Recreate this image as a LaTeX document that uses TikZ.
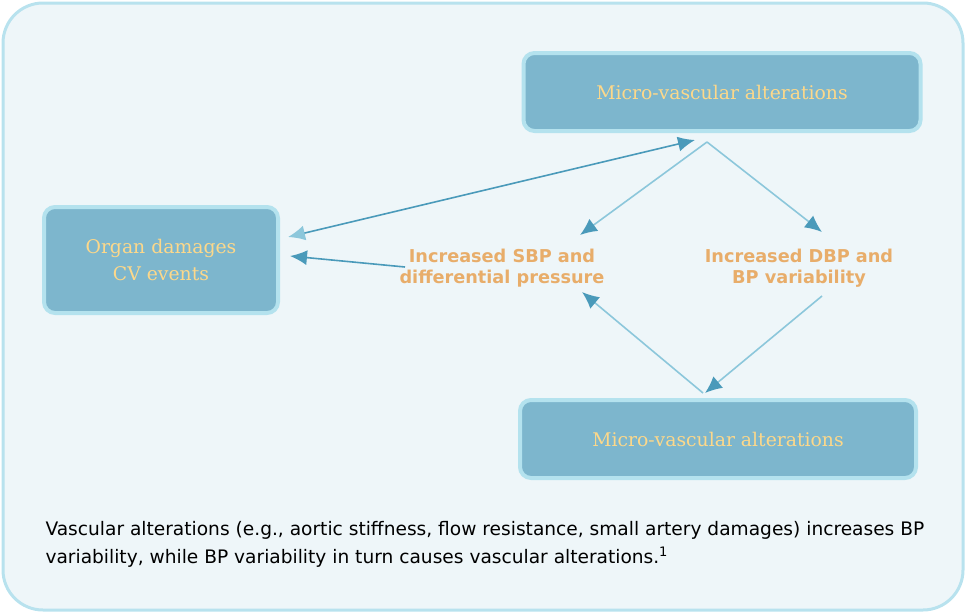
\documentclass[tikz,border=0pt]{standalone}
\usepackage{fontspec}
\setmainfont{DejaVu Sans}
\newfontfamily\boxfont{DejaVu Serif}
\usetikzlibrary{arrows.meta, positioning, calc}

\definecolor{framefill}{HTML}{EEF6F9}
\definecolor{frameline}{HTML}{B8E2EE}
\definecolor{boxfill}{HTML}{7DB6CD}
\definecolor{boxline}{HTML}{B4E2EE}
\definecolor{boxtext}{HTML}{FDD88A}
\definecolor{labeltext}{HTML}{E8AD6A}
\definecolor{arrowdark}{HTML}{4A9ABA}
\definecolor{arrowlite}{HTML}{8CC7DB}

\begin{document}
\begin{tikzpicture}[x=1pt, y=-1pt,
    altbox/.style={draw=boxline, line width=4pt, fill=boxfill, rounded corners=11pt,
        text=boxtext, align=center, font=\boxfont\fontsize{18.8}{27}\selectfont},
    effect/.style={text=labeltext, align=center, font=\bfseries\fontsize{17.7}{21.5}\selectfont},
    link/.style={arrowdark, line width=1.6pt, -{Latex[length=17pt, width=15pt]}},
    litelink/.style={arrowlite, line width=1.6pt, -{Latex[length=17pt, width=15pt, color=arrowdark]}}]

% Frame
\useasboundingbox (0,0) rectangle (966,613);
\draw[frameline, fill=framefill, line width=3pt, rounded corners=40pt] (3,3) rectangle (963,610);

% Boxes
\node[altbox, minimum width=397pt, minimum height=78pt] (top) at (722,92) {Micro-vascular alterations};
\node[altbox, minimum width=234pt, minimum height=106pt] (organ) at (161,260) {Organ damages\\CV events};
\node[altbox, minimum width=396pt, minimum height=78pt] (bottom) at (718,439) {Micro-vascular alterations};

% Pressure labels
\node[effect] (sbp) at (502,268) {Increased SBP and\\differential pressure};
\node[effect] (dbp) at (799,268) {Increased DBP and\\BP variability};

% Arrow ends
\coordinate (apex) at (707,142);
\coordinate (topin) at (695,140);
\coordinate (organhi) at (288,237);
\coordinate (organlo) at (290,256);
\coordinate (sbpout) at (405,267);
\coordinate (sbpin) at (580,235);
\coordinate (sbpbot) at (582,292);
\coordinate (dbpin) at (822,232);
\coordinate (dbpout) at (822,296);
\coordinate (botin) at (705,393);
\coordinate (botout) at (703,393);

% Arrows
\draw[link, {Latex[length=17pt, width=15pt, color=arrowlite]}-{Latex[length=17pt, width=15pt]}] (organhi) -- (topin);
\draw[link] (sbpout) -- (organlo);
\draw[litelink] (apex) -- (sbpin);
\draw[litelink] (apex) -- (dbpin);
\draw[litelink] (dbpout) -- (botin);
\draw[litelink] (botout) -- (sbpbot);

% Caption
\node[anchor=west, font=\fontsize{18.6}{28}\selectfont, align=left] (caption) at (42,544)
    {Vascular alterations (e.g., aortic stiffness, flow resistance, small artery damages) increases BP\\
     variability, while BP variability in turn causes vascular alterations.\textsuperscript{1}};

\end{tikzpicture}
\end{document}
